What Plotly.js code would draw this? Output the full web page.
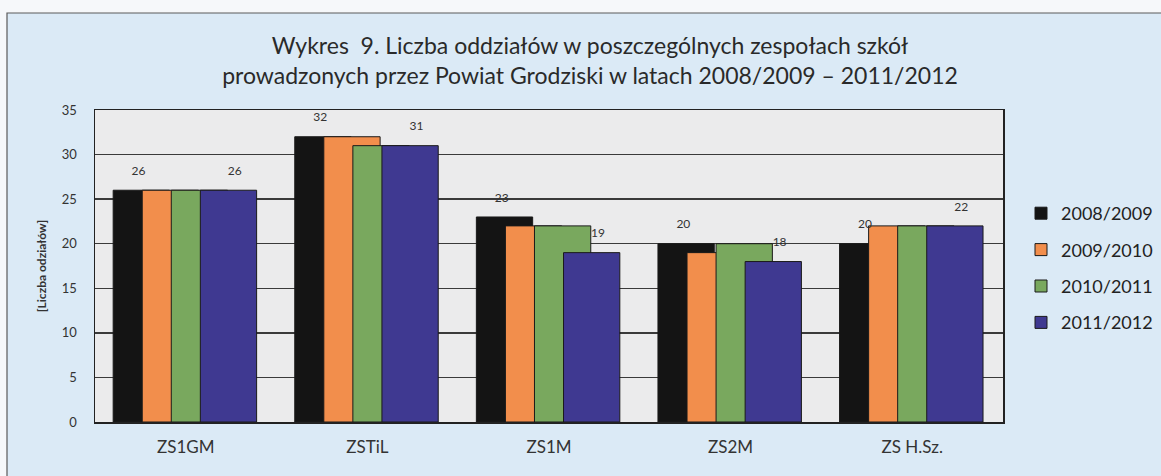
<!DOCTYPE html>
<html>
<head>
<meta charset="utf-8">
<script src="https://cdn.plot.ly/plotly-3.0.1.min.js"></script>
<style>html,body{margin:0;padding:0;background:#fff;}#chart{width:1161px;height:476px;}</style>
</head>
<body>
<div id="chart"></div>
<script>
const categories = ['ZS1GM', 'ZSTiL', 'ZS1M', 'ZS2M', 'ZS H.Sz.'];
const years = ['2008/2009', '2009/2010', '2010/2011', '2011/2012'];
const v2008 = [26, 32, 23, 20, 20];
const v2009 = [26, 32, 22, 19, 22];
const v2010 = [26, 31, 22, 20, 22];
const v2011 = [26, 31, 19, 18, 22];
const yTicks = [0, 5, 10, 15, 20, 25, 30, 35];

const series = [v2008, v2009, v2010, v2011];
const colors = ['#141414', '#f28e4c', '#79a85e', '#3f3991'];
const offsets = [-0.40, -0.24, -0.08, 0.08];
const barWidth = 0.31;
const idx = categories.map((c, i) => i);

const traces = series.map((vals, k) => ({
  type: 'bar',
  name: years[k],
  x: idx,
  y: vals,
  offset: offsets[k],
  width: barWidth,
  marker: {color: colors[k], line: {color: '#1a1a1a', width: 1}},
  legendgroup: 'g' + k,
  hoverinfo: 'y'
}));

// data labels for first and last series
const labelFont = {family: 'Lato, sans-serif', size: 12, color: '#333'};
traces.push({
  type: 'scatter', mode: 'markers+text', showlegend: false, hoverinfo: 'skip',
  x: idx.map(i => i - 0.26), y: v2008, text: v2008.map(String),
  textposition: 'top center', textfont: labelFont,
  marker: {size: 18, opacity: 0}, cliponaxis: false
});
traces.push({
  type: 'scatter', mode: 'markers+text', showlegend: false, hoverinfo: 'skip',
  x: idx.map(i => i + 0.27), y: v2011, text: v2011.map(String),
  textposition: 'top center', textfont: labelFont,
  marker: {size: 18, opacity: 0}, cliponaxis: false
});

const L = 95, R = 1161 - 1003, T = 110, B = 476 - 422;
const pw = 1161 - L - R, ph = 476 - T - B;
const px2x = p => (p - L) / pw;
const py2y = p => (476 - B - p) / ph;

const layout = {
  width: 1161, height: 476,
  margin: {l: L, r: R, t: T, b: B, pad: 0, autoexpand: false},
  paper_bgcolor: '#f6f8fa',
  plot_bgcolor: 'rgba(0,0,0,0)',
  barmode: 'overlay',
  font: {family: 'Lato, sans-serif', color: '#333'},
  title: {
    text: 'Wykres  9. Liczba oddziałów w poszczególnych zespołach szkół<br>prowadzonych przez Powiat Grodziski w latach 2008/2009 – 2011/2012',
    font: {family: 'Lato, sans-serif', size: 23, color: '#2a2a2a'},
    x: 590 / 1161, xanchor: 'center', xref: 'container',
    y: 1 - 54 / 476, yanchor: 'middle', yref: 'container'
  },
  xaxis: {
    range: [-0.5, 4.5],
    tickvals: idx, ticktext: categories,
    tickfont: {family: 'Lato, sans-serif', size: 17, color: '#333'},
    showgrid: false, zeroline: false,
    showline: true, linecolor: '#222', linewidth: 1.5, mirror: true,
    ticks: '', ticklabelstandoff: 9, fixedrange: true
  },
  yaxis: {
    range: [0, 35],
    tickvals: yTicks,
    tickfont: {family: 'Lato, sans-serif', size: 13, color: '#333'},
    showgrid: true, gridcolor: '#3a3a3a', gridwidth: 1.5,
    zeroline: false,
    showline: true, linecolor: '#222', linewidth: 1.5, mirror: true,
    ticks: '', ticklabelstandoff: 14, fixedrange: true,
    title: {text: '[Liczba odziałów]', font: {family: 'Lato, sans-serif', size: 12, color: '#333', weight: 'bold'}, standoff: 12}
  },
  legend: {
    x: px2x(1021), xanchor: 'left',
    y: py2y(195), yanchor: 'top',
    font: {family: 'Lato, sans-serif', size: 18, color: '#222'},
    bgcolor: 'rgba(0,0,0,0)',
    traceorder: 'grouped', tracegroupgap: 10,
    itemclick: false, itemdoubleclick: false
  },
  shapes: [
    {type: 'rect', xref: 'paper', yref: 'paper', layer: 'below',
     x0: px2x(7), x1: px2x(1175), y0: py2y(490), y1: py2y(13),
     fillcolor: '#dbeaf6', line: {color: '#5a5a5a', width: 1.2}},
    {type: 'rect', xref: 'paper', yref: 'paper', layer: 'below',
     x0: 0, x1: 1, y0: 0, y1: 1,
     fillcolor: '#ebebec', line: {width: 0}}
  ],
  showlegend: true
};

Plotly.newPlot('chart', traces, layout, {displayModeBar: false, staticPlot: true});
</script>
</body>
</html>
